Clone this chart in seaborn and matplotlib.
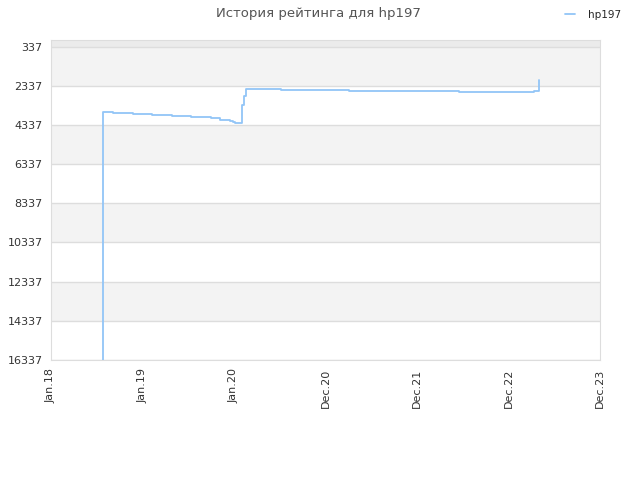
import pandas as pd
import matplotlib
matplotlib.use("Agg")
import matplotlib.pyplot as plt
import matplotlib.dates as mdates
import seaborn as sns

# rating history
dates = ["2018-07-26", "2018-07-26", "2018-09-04", "2018-11-23", "2019-02-07",
         "2019-04-27", "2019-07-13", "2019-09-30", "2019-11-06", "2019-11-26",
         "2019-12-16", "2019-12-29", "2020-01-05", "2020-01-31", "2020-02-03",
         "2020-02-10", "2020-02-17", "2020-07-05", "2021-04-04", "2022-06-17",
         "2023-04-12", "2023-05-03", "2023-05-03"]
ratings = [16337, 3700, 3745, 3800, 3850,
           3900, 3950, 4000, 4060, 4110,
           4160, 4210, 4260, 3560, 3300,
           2840, 2485, 2535, 2586, 2640,
           2590, 2590, 2025]
y_ticks = [337, 2337, 4337, 6337, 8337, 10337, 12337, 14337, 16337]
x_ticks = ["2018-01-01", "2019-01-01", "2020-01-01", "2020-12-31",
           "2021-12-31", "2022-12-31", "2023-12-31"]
x_labels = ["Jan.18", "Jan.19", "Jan.20", "Dec.20", "Dec.21", "Dec.22", "Dec.23"]

df = pd.DataFrame({"date": pd.to_datetime(dates), "rating": ratings, "name": "hp197"})

sns.set_style("white")
plt.rcParams["font.family"] = ["DejaVu Sans"]

fig = plt.figure(figsize=(6.4, 4.8), dpi=100)
ax = fig.add_axes([0.0797, 0.25, 0.8578, 0.6667])

# alternating bands
ax.axhspan(0, 337, color="#ebebeb", lw=0, zorder=0)
for i in range(0, len(y_ticks) - 1, 2):
    ax.axhspan(y_ticks[i], y_ticks[i + 1], color="#f3f3f3", lw=0, zorder=0)
for t in y_ticks:
    ax.axhline(t, color="#dddddd", lw=1, zorder=1)

sns.lineplot(data=df, x="date", y="rating", hue="name", palette=["#92c5f7"],
             estimator=None, sort=False, drawstyle="steps-post", lw=1.3,
             legend=False, ax=ax, zorder=3)

ax.set_ylim(16337, 0)
ax.set_xlim(pd.Timestamp("2018-01-01"), pd.Timestamp("2023-12-31"))
ax.set_yticks(y_ticks)
ax.set_yticklabels([str(t) for t in y_ticks], fontsize=8, color="#333333")
ax.set_xticks([mdates.date2num(pd.Timestamp(d)) for d in x_ticks])
ax.set_xticklabels(x_labels, rotation=90, fontsize=8, color="#333333")
ax.tick_params(length=0, pad=6)
ax.set_xlabel("")
ax.set_ylabel("")
for s in ax.spines.values():
    s.set_color("#dddddd")

fig.text(0.497, 0.972, "История рейтинга для hp197", ha="center", va="center",
         fontsize=9.5, color="#555555")
handle = plt.Line2D([], [], color="#92c5f7", lw=1.3)
fig.legend([handle], ["hp197"], loc="center right", bbox_to_anchor=(0.985, 0.969),
           frameon=False, fontsize=7.5, handlelength=1.0, handletextpad=1.2)

fig.savefig("out.png", dpi=100)
